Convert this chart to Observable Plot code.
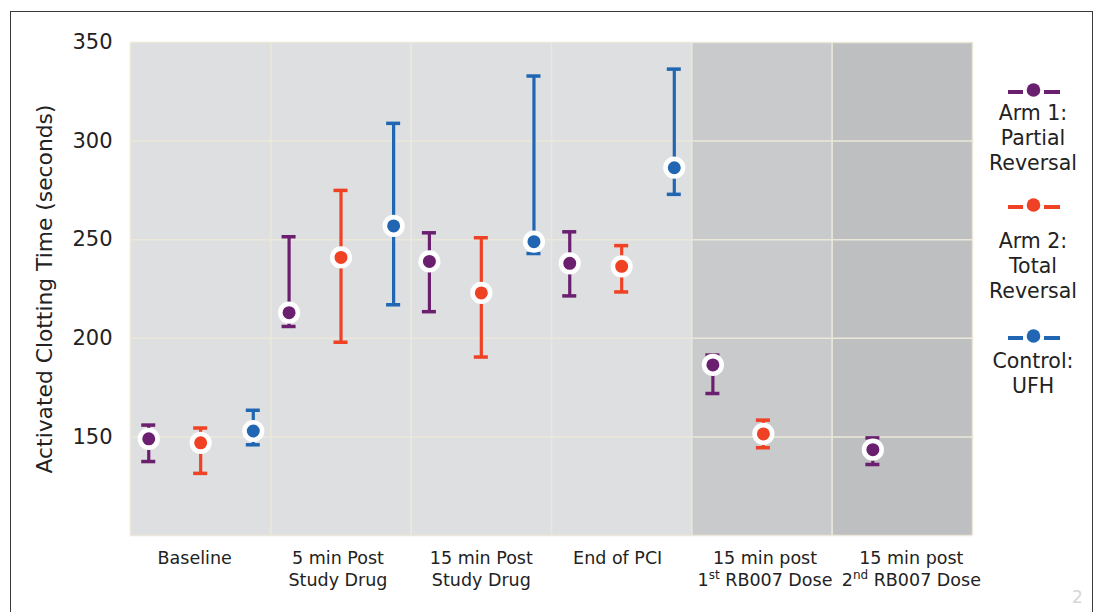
<!DOCTYPE html>
<html>
<head>
<meta charset="utf-8">
<script src="https://cdn.jsdelivr.net/npm/d3@7"></script>
<script src="https://cdn.jsdelivr.net/npm/@observablehq/plot@0.6"></script>
<style>
  body { margin: 0; background: #fff; font-family: "DejaVu Sans", Verdana, sans-serif; }
  #wrap { position: relative; width: 1103px; height: 612px; overflow: hidden; }
  #frame { position: absolute; left: 10px; top: 11px; width: 1083px; height: 700px; border: 1.5px solid #3a3a3a; box-sizing: border-box; pointer-events: none; }
  #chart { position: absolute; left: 0; top: 0; }
  #legend { position: absolute; left: 0; top: 0; color: #222; font-size: 20.5px; }
  #legend .sym { position: absolute; }
  #legend .txt { position: absolute; width: 110px; text-align: center; line-height: 25px; }
  #page { position: absolute; left: 1072px; top: 587px; color: #d6d6d6; font-size: 17px; }
</style>
</head>
<body>
<div id="wrap">
  <div id="chart"></div>
  <div id="legend"></div>
  <div id="frame"></div>
  <div id="page">2</div>
</div>
<script>
// ---- data ----
const categories = ["Baseline", "5 min Post\nStudy Drug", "15 min Post\nStudy Drug", "End of PCI", "15 min post\n1st RB007 Dose", "15 min post\n2nd RB007 Dose"];
const seriesNames = ["Arm 1: Partial Reversal", "Arm 2: Total Reversal", "Control: UFH"];
const legendLines = [["Arm 1:", "Partial", "Reversal"], ["Arm 2:", "Total", "Reversal"], ["Control:", "UFH"]];

const arm1Mean = [149, 213, 239, 238, 186.5, 143.5];
const arm1Low  = [137.5, 206, 213.5, 221.5, 172, 136];
const arm1High = [156, 251.5, 253.5, 254, 191.5, 149.5];

const arm2Mean = [147, 241, 223, 236.5, 151.5, null];
const arm2Low  = [131.5, 198, 190.5, 223.5, 144.5, null];
const arm2High = [154.5, 275, 251, 247, 158.5, null];

const ctrlMean = [153, 257, 249, 286.5, null, null];
const ctrlLow  = [146, 217, 243, 273, null, null];
const ctrlHigh = [163.5, 309, 333, 336.5, null, null];

const yTicks = [150, 200, 250, 300, 350];

// ---- styling / layout ----
const colors = ["#6b1f6f", "#ef4123", "#2066b2"];
const panelFill = ["#dedfe1", "#dedfe1", "#dedfe1", "#dedfe1", "#c9cacc", "#bebfc1"];
const slots = [[0.13, 0.5, 0.875], [0.13, 0.5, 0.875], [0.13, 0.5, 0.875], [0.13, 0.5, 0.875], [0.15, 0.51], [0.29]];
const labelShift = [-6, -3, 0, -4, 3, 9];
const capHalf = 0.05;
const legendSymbolTop = [82, 197, 328];
const legendTextTop = [101, 229, 349];

const means = [arm1Mean, arm2Mean, ctrlMean];
const lows = [arm1Low, arm2Low, ctrlLow];
const highs = [arm1High, arm2High, ctrlHigh];

const rows = [];
categories.forEach((c, i) => {
  seriesNames.forEach((s, k) => {
    if (means[k][i] == null) return;
    rows.push({x: i + slots[i][k], mean: means[k][i], lo: lows[k][i], hi: highs[k][i], series: s, color: colors[k]});
  });
});
const panels = categories.map((c, i) => ({x1: i, x2: i + 1, fill: panelFill[i]}));
const boundaries = d3.range(categories.length + 1);

const plot = Plot.plot({
  width: 1103,
  height: 612,
  marginLeft: 130,
  marginRight: 131,
  marginTop: 42,
  marginBottom: 77,
  style: {fontFamily: '"DejaVu Sans", Verdana, sans-serif', background: "transparent", color: "#222"},
  x: {domain: [0, categories.length]},
  y: {domain: [100, 350]},
  marks: [
    Plot.rectY(panels, {x1: "x1", x2: "x2", y1: 100, y2: 350, fill: "fill"}),
    Plot.ruleY(yTicks, {stroke: "#ebe8da", strokeWidth: 1.5}),
    Plot.ruleX(boundaries, {stroke: "#ebe8da", strokeWidth: 1.5}),
    Plot.ruleY([100], {stroke: "#ebe8da", strokeWidth: 1.5}),
    Plot.ruleX(rows, {x: "x", y1: "lo", y2: "hi", stroke: "color", strokeWidth: 3.2}),
    Plot.ruleY(rows, {y: "hi", x1: d => d.x - capHalf, x2: d => d.x + capHalf, stroke: "color", strokeWidth: 3.5}),
    Plot.ruleY(rows, {y: "lo", x1: d => d.x - capHalf, x2: d => d.x + capHalf, stroke: "color", strokeWidth: 3.5}),
    Plot.dot(rows, {x: "x", y: "mean", r: 8.8, fill: "color", stroke: "white", strokeWidth: 4.6}),
    Plot.axisY(yTicks, {tickSize: 0, tickPadding: 18, fontSize: 21, label: "Activated Clotting Time (seconds)", labelAnchor: "center", labelArrow: "none", labelOffset: 94}),
    Plot.axisX(categories.map((c, i) => i + 0.5), {tickSize: 0, tickPadding: 13, fontSize: 17.5, tickFormat: d => categories[Math.floor(d)], label: null, lineHeight: 1.25})
  ]
});

d3.select(plot).selectAll("g[aria-label='y-axis label'] text").style("font-size", "21.8px");

// small per-label horizontal nudges, as in the original layout
d3.select(plot).selectAll("g[aria-label='x-axis tick label'] text").each(function (d, i) {
  const t = d3.select(this);
  const tr = t.attr("transform") || "";
  t.attr("transform", tr + ` translate(${labelShift[i] || 0},0)`);
});

// superscripts for ordinals in x labels
d3.select(plot).selectAll("g[aria-label='x-axis tick label'] tspan").each(function () {
  const t = d3.select(this);
  const m = /^(\d)(st|nd|rd|th) (.*)$/.exec(t.text());
  if (!m) return;
  t.text(m[1]);
  t.append("tspan").attr("baseline-shift", "super").style("font-size", "12px").text(m[2]);
  t.append("tspan").text(" " + m[3]);
});

document.getElementById("chart").appendChild(plot);

// legend
const legend = d3.select("#legend");
seriesNames.forEach((s, k) => {
  const svg = legend.append("svg").attr("class", "sym")
    .style("left", "1005px").style("top", legendSymbolTop[k] + "px")
    .attr("width", 58).attr("height", 18);
  svg.append("line").attr("x1", 3).attr("x2", 18).attr("y1", 10).attr("y2", 10).attr("stroke", colors[k]).attr("stroke-width", 4);
  svg.append("line").attr("x1", 39).attr("x2", 55).attr("y1", 10).attr("y2", 10).attr("stroke", colors[k]).attr("stroke-width", 4);
  svg.append("circle").attr("cx", 28.5).attr("cy", 8).attr("r", 6.8).attr("fill", colors[k]);
  const txt = legend.append("div").attr("class", "txt")
    .style("left", "978px").style("top", legendTextTop[k] + "px");
  legendLines[k].forEach(l => txt.append("div").text(l));
});
</script>
</body>
</html>
